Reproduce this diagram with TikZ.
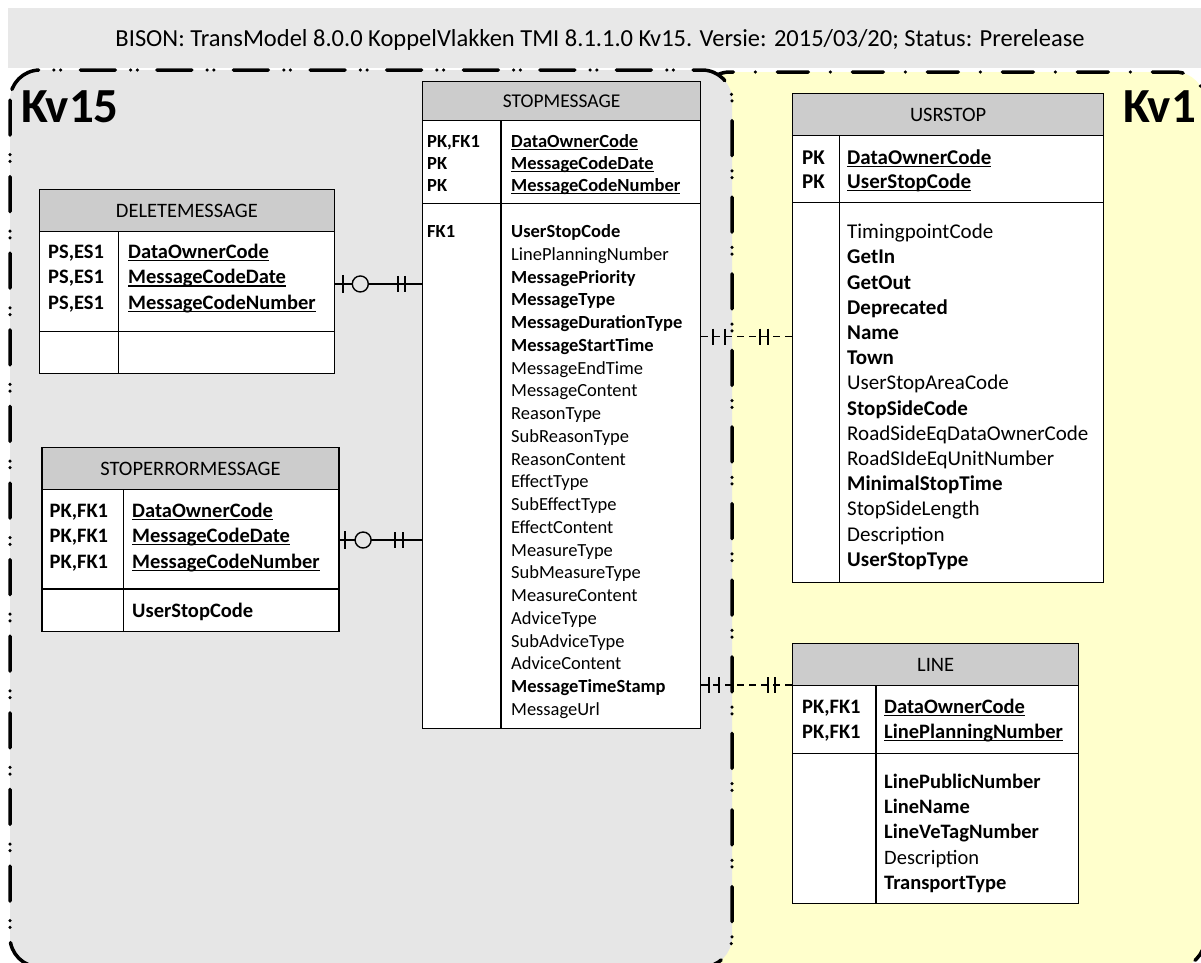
\documentclass[tikz,border=0pt]{standalone}
\usepackage{fontspec}
\setmainfont{Carlito}
\usetikzlibrary{calc}
\definecolor{bandbg}{HTML}{E8E8E8}
\definecolor{kvgray}{HTML}{E6E6E6}
\definecolor{kvyellow}{HTML}{FFFFCC}
\definecolor{hdrgray}{HTML}{CCCCCC}
\newcommand{\ulx}[1]{\setbox0\hbox{#1}\rlap{\rule[-2.6pt]{\wd0}{1.1pt}}\box0}
\newcommand{\bu}[1]{\ulx{\textbf{#1}}}
\begin{document}
\begin{tikzpicture}[x=1pt,y=-1pt,
  tbl/.style={draw=black,line width=1.3pt},
  hdr/.style={tbl,fill=hdrgray,inner sep=0pt,anchor=north west},
  sect/.style={tbl,fill=white,inner sep=0pt,anchor=north west},
  txt/.style={anchor=base west,inner sep=0pt},
  fsm/.style={font=\fontsize{18.5}{22}\selectfont},
  fbig/.style={font=\fontsize{20.5}{24}\selectfont},
  fus/.style={font=\fontsize{21}{25}\selectfont},
  fhdr/.style={font=\fontsize{20.5}{24}\selectfont},
  conn/.style={line width=1.4pt},
  dconn/.style={line width=1.4pt,dash pattern=on 7pt off 5pt},
  bar/.style={line width=2pt},
  kvlbl/.style={font=\fontsize{49}{52}\selectfont\bfseries,inner sep=0pt},
  kvfifteen/.style={line width=3.5pt,line cap=round,dash pattern=on 35pt off 19.6pt on 0pt off 6.7pt on 0pt off 15.3pt},
  kvone/.style={line width=3.5pt,line cap=round,dash pattern=on 31pt off 22pt on 0pt off 22pt}
]
\useasboundingbox (0,0) rectangle (1201,962);
% title band
\fill[bandbg] (8,8) rectangle (1201,68);
\node[anchor=base,inner sep=0pt,font=\fontsize{24.5}{28}\selectfont] (title) at (600,46)
  {BISON: TransModel 8.0.0 KoppelVlakken TMI 8.1.1.0 Kv15. Versie: 2015/03/20; Status: Prerelease};
% regions
\draw[kvone,fill=kvyellow,rounded corners=30pt] (700,72) rectangle (1205,968);
\draw[kvfifteen,fill=kvgray,rounded corners=30pt] (10,70) rectangle (732,967);
\node[kvlbl,anchor=base west] (kv15) at (21,122) {Kv15};
\node[kvlbl,anchor=base east] (kv1) at (1196,122) {Kv1};

% ---------- STOPMESSAGE ----------
\node[hdr,font=\fontsize{19.5}{22}\selectfont,minimum width=278pt,minimum height=39pt] (smh) at (422,81) {STOPMESSAGE};
\node[sect,minimum width=278pt,minimum height=83pt] (smk) at (422,120) {};
\node[sect,minimum width=278pt,minimum height=525pt] (sma) at (422,203) {};
\draw[tbl] ($(smk.north west)+(79,0)$) -- ($(sma.south west)+(79,0)$);
\foreach \t [count=\i from 0] in {{PK,FK1},PK,PK}
  \node[txt,fsm] (smkl\i) at (427,147.7+21.65*\i) {\textbf{\t}};
\foreach \t [count=\i from 0] in {DataOwnerCode,MessageCodeDate,MessageCodeNumber}
  \node[txt,fsm] (smkv\i) at (511,147.7+21.65*\i) {\bu{\t}};
\node[txt,fsm] (smfk) at (427,237.7) {\textbf{FK1}};
\foreach \t [count=\i from 0] in {\textbf{UserStopCode},LinePlanningNumber,\textbf{MessagePriority},\textbf{MessageType},\textbf{MessageDurationType},\textbf{MessageStartTime},MessageEndTime,MessageContent,ReasonType,SubReasonType,ReasonContent,EffectType,SubEffectType,EffectContent,MeasureType,SubMeasureType,MeasureContent,AdviceType,SubAdviceType,AdviceContent,\textbf{MessageTimeStamp},MessageUrl}
  \node[txt,fsm] (sma\i) at (511,237.7+22.75*\i) {\t};

% ---------- DELETEMESSAGE ----------
\node[hdr,fhdr,minimum width=294.5pt,minimum height=42pt] (dmh) at (39,189) {DELETEMESSAGE};
\node[sect,minimum width=294.5pt,minimum height=100pt] (dmk) at (39,231) {};
\node[sect,minimum width=294.5pt,minimum height=42pt] (dma) at (39,331) {};
\draw[tbl] ($(dmk.north west)+(79.7,0)$) -- ($(dma.south west)+(79.7,0)$);
\foreach \t [count=\i from 0] in {DataOwnerCode,MessageCodeDate,MessageCodeNumber}{
  \node[txt,fbig] (dmkl\i) at (48,258.7+25.2*\i) {\textbf{PS,ES1}};
  \node[txt,fbig] (dmkv\i) at (128,258.7+25.2*\i) {\bu{\t}};
}

% ---------- STOPERRORMESSAGE ----------
\node[hdr,fhdr,minimum width=297pt,minimum height=42pt] (seh) at (41.3,447) {STOPERRORMESSAGE};
\node[sect,minimum width=297pt,minimum height=99.3pt] (sek) at (41.3,489) {};
\node[sect,minimum width=297pt,minimum height=42.7pt] (sea) at (41.3,588.3) {};
\draw[tbl] ($(sek.north west)+(82,0)$) -- ($(sea.south west)+(82,0)$);
\foreach \t [count=\i from 0] in {DataOwnerCode,MessageCodeDate,MessageCodeNumber}{
  \node[txt,fbig] (sekl\i) at (49.5,517+25.5*\i) {\textbf{PK,FK1}};
  \node[txt,fbig] (sekv\i) at (132,517+25.5*\i) {\bu{\t}};
}
\node[txt,fbig] (sea0) at (132,617) {\textbf{UserStopCode}};

% ---------- USRSTOP ----------
\node[hdr,fhdr,minimum width=311pt,minimum height=42pt] (ush) at (792,93) {USRSTOP};
\node[sect,minimum width=311pt,minimum height=67pt] (usk) at (792,135) {};
\node[sect,minimum width=311pt,minimum height=380pt] (usa) at (792,202) {};
\draw[tbl] ($(usk.north west)+(47.5,0)$) -- ($(usa.south west)+(47.5,0)$);
\foreach \t [count=\i from 0] in {DataOwnerCode,UserStopCode}{
  \node[txt,fus] (uskl\i) at (802,164+24.7*\i) {\textbf{PK}};
  \node[txt,fus] (uskv\i) at (847,164+24.7*\i) {\bu{\t}};
}
\foreach \t [count=\i from 0] in {TimingpointCode,\textbf{GetIn},\textbf{GetOut},\textbf{Deprecated},\textbf{Name},\textbf{Town},UserStopAreaCode,\textbf{StopSideCode},RoadSideEqDataOwnerCode,RoadSIdeEqUnitNumber,\textbf{MinimalStopTime},StopSideLength,Description,\textbf{UserStopType}}
  \node[txt,fus] (usa\i) at (847,238.7+25.2*\i) {\t};

% ---------- LINE ----------
\node[hdr,fhdr,minimum width=286pt,minimum height=42pt] (lnh) at (792,643) {LINE};
\node[sect,minimum width=286pt,minimum height=68pt] (lnk) at (792,685) {};
\node[sect,minimum width=286pt,minimum height=150pt] (lna) at (792,753) {};
\draw[tbl] ($(lnk.north west)+(84,0)$) -- ($(lna.south west)+(84,0)$);
\foreach \t [count=\i from 0] in {DataOwnerCode,LinePlanningNumber}{
  \node[txt,fbig] (lnkl\i) at (802,713.5+24.5*\i) {\textbf{PK,FK1}};
  \node[txt,fbig] (lnkv\i) at (884,713.5+24.5*\i) {\bu{\t}};
}
\foreach \t [count=\i from 0] in {\textbf{LinePublicNumber},\textbf{LineName},\textbf{LineVeTagNumber},Description,\textbf{TransportType}}
  \node[txt,fbig] (lna\i) at (884,788.7+25.1*\i) {\t};

% ---------- connectors ----------
% DELETEMESSAGE -> STOPMESSAGE
\coordinate (dmc) at ($(dmk.east)+(0,2.3)$);
\coordinate (dmt) at (dmc -| sma.west);
\draw[conn] (dmc) -- (dmt);
\draw[bar] ($(dmc)+(8,-9)$) -- ++(0,18);
\draw[conn,fill=kvgray] ($(dmc)+(25.5,0)$) circle (8pt);
\draw[bar] ($(dmt)+(-24,-8)$) -- ++(0,16);
\draw[bar] ($(dmt)+(-17,-8)$) -- ++(0,16);
% STOPERRORMESSAGE -> STOPMESSAGE
\coordinate (sec) at ($(sek.east)+(0,0.7)$);
\coordinate (set) at (sec -| sma.west);
\draw[conn] (sec) -- (set);
\draw[bar] ($(sec)+(5.5,-9)$) -- ++(0,18);
\draw[conn,fill=kvgray] ($(sec)+(23.5,0)$) circle (8pt);
\draw[bar] ($(set)+(-27.5,-8)$) -- ++(0,16);
\draw[bar] ($(set)+(-19.5,-8)$) -- ++(0,16);
% STOPMESSAGE -> USRSTOP
\coordinate (smu) at ($(sma.north east)+(0,133.5)$);
\coordinate (usc) at (smu -| usa.west);
\draw[dconn] (smu) -- (usc);
\draw[bar] ($(smu)+(11.7,-8)$) -- ++(0,16);
\draw[bar] ($(smu)+(24,-8)$) -- ++(0,16);
\draw[bar] ($(usc)+(-32,-8)$) -- ++(0,16);
\draw[bar] ($(usc)+(-24,-8)$) -- ++(0,16);
% STOPMESSAGE -> LINE
\coordinate (sml) at ($(sma.north east)+(0,482)$);
\coordinate (lnc) at (sml -| lnk.west);
\draw[dconn] (sml) -- (lnc);
\draw[bar] ($(sml)+(8,-8)$) -- ++(0,16);
\draw[bar] ($(sml)+(18,-8)$) -- ++(0,16);
\draw[bar] ($(lnc)+(-24,-8)$) -- ++(0,16);
\draw[bar] ($(lnc)+(-17,-8)$) -- ++(0,16);
\end{tikzpicture}
\end{document}
